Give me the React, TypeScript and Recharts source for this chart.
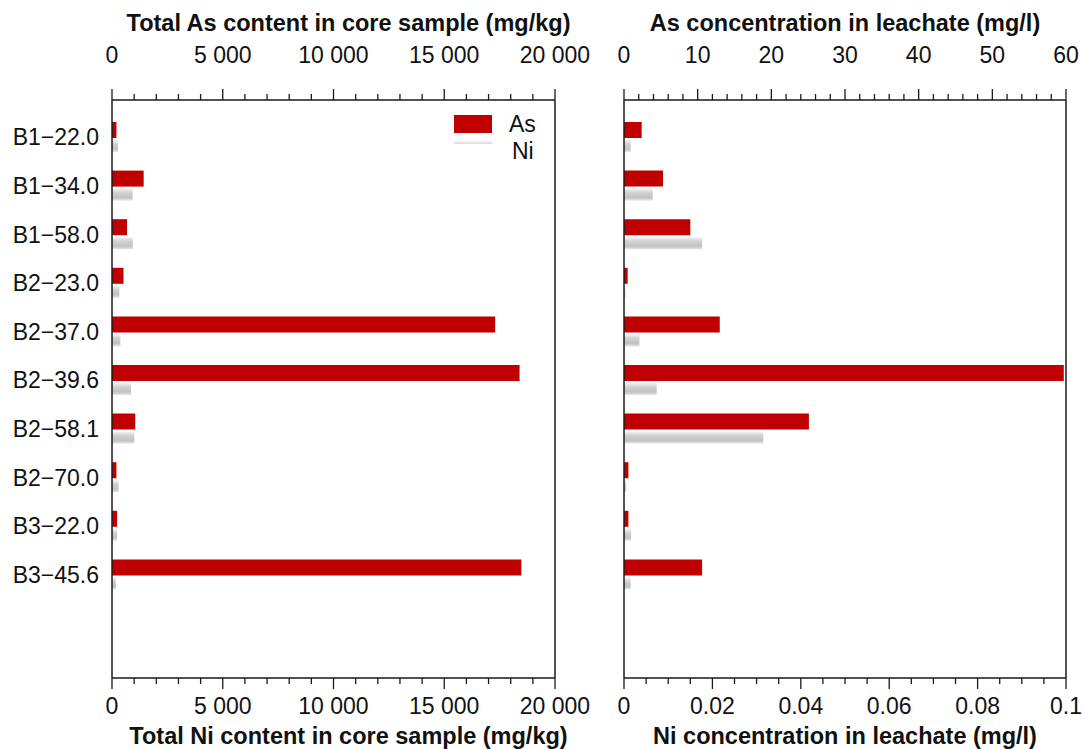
import React from 'react';
import { BarChart, Bar, XAxis, YAxis, Legend, ReferenceLine } from 'recharts';

// Core samples (borehole - depth)
const samples = ['B1−22.0', 'B1−34.0', 'B1−58.0', 'B2−23.0', 'B2−37.0', 'B2−39.6', 'B2−58.1', 'B2−70.0', 'B3−22.0', 'B3−45.6'];

// Total content in core sample (mg/kg)
const asCore = [200, 1430, 680, 520, 17300, 18400, 1050, 200, 230, 18480];
const niCore = [270, 930, 940, 330, 375, 860, 1005, 300, 230, 180];

// Concentration in leachate (mg/l)
const asLeach = [2.4, 5.3, 9.0, 0.5, 13.0, 59.7, 25.1, 0.6, 0.6, 10.6];
const niLeach = [0.0015, 0.0065, 0.0177, 0.0003, 0.0035, 0.0074, 0.0315, 0.0005, 0.0016, 0.0015];

// Major ticks + labels, minors are subdivisions between majors
const coreMajors = [0, 5000, 10000, 15000, 20000];
const coreLabels = ['0', '5 000', '10 000', '15 000', '20 000'];
const asLeachMajors = [0, 10, 20, 30, 40, 50, 60];
const asLeachLabels = ['0', '10', '20', '30', '40', '50', '60'];
const niLeachMajors = [0, 0.02, 0.04, 0.06, 0.08, 0.1];
const niLeachLabels = ['0', '0.02', '0.04', '0.06', '0.08', '0.1'];

const FONT = '"Liberation Sans", Arial, sans-serif';
const RED = '#c00000';
const AXIS = '#1a1a1a';

const coreData = samples.map((name, i) => ({ name, as: asCore[i], ni: niCore[i] }));
const leachData = samples.map((name, i) => ({ name, as: asLeach[i], ni: niLeach[i] }));

function withMinors(majors: number[], per: number) {
  const out: number[] = [];
  for (let i = 0; i < majors.length - 1; i++) {
    for (let k = 0; k < per; k++) out.push(majors[i] + ((majors[i + 1] - majors[i]) * k) / per);
  }
  out.push(majors[majors.length - 1]);
  return out;
}

function makeTick(side: 'top' | 'bottom', majors: number[], labels: string[]) {
  return (props: any) => {
    const { x, y, payload } = props;
    const idx = majors.findIndex((m) => Math.abs(m - payload.value) < 1e-9);
    const len = idx >= 0 ? 11 : 6;
    const dir = side === 'top' ? -1 : 1;
    return (
      <g>
        <line x1={x} x2={x} y1={y} y2={y + dir * len} stroke={AXIS} strokeWidth={1.3} />
        {idx >= 0 && (
          <text x={x} y={side === 'top' ? y - 37 : y + 36} textAnchor="middle" fontSize={23} fontFamily={FONT} fill="#111">
            {labels[idx]}
          </text>
        )}
      </g>
    );
  };
}

const titleStyle = { fontSize: 23.5, fontWeight: 700, fontFamily: FONT, fill: '#111' };

const LegendBox = () => (
  <svg width={100} height={54}>
    <defs>
      <linearGradient id="niLegend" x1="0" y1="0" x2="0" y2="1">
        <stop offset="0%" stopColor="#f4f4f4" />
        <stop offset="100%" stopColor="#dcdcdc" />
      </linearGradient>
    </defs>
    <rect x={0} y={3} width={38} height={18} fill={RED} />
    <rect x={0} y={29} width={38} height={3} fill="url(#niLegend)" />
    <text x={55} y={20} fontSize={23} fontFamily={FONT} fill="#111">As</text>
    <text x={58} y={47} fontSize={23} fontFamily={FONT} fill="#111">Ni</text>
  </svg>
);

const NiGradient = ({ id }: { id: string }) => (
  <defs>
    <linearGradient id={id} x1="0" y1="0" x2="0" y2="1">
      <stop offset="0%" stopColor="#f2f2f2" />
      <stop offset="35%" stopColor="#d0d0d0" />
      <stop offset="75%" stopColor="#c2c2c2" />
      <stop offset="100%" stopColor="#e6e6e6" />
    </linearGradient>
  </defs>
);

function CoreChart() {
  return (
    <BarChart width={600} height={749} data={coreData} layout="vertical" barGap={2}
      margin={{ top: 0, right: 45, bottom: 0, left: 0 }}>
      <NiGradient id="niCore" />
      <XAxis xAxisId="as" type="number" orientation="top" domain={[0, 20000]} ticks={withMinors(coreMajors, 5)}
        interval={0} height={100} tickSize={0} tickMargin={0} tick={makeTick('top', coreMajors, coreLabels)}
        axisLine={{ stroke: AXIS, strokeWidth: 1.5 }}
        label={{ value: 'Total As content in core sample (mg/kg)', position: 'insideTop', offset: 14, dx: 15, style: titleStyle }} />
      <XAxis xAxisId="ni" type="number" orientation="bottom" domain={[0, 20000]} ticks={withMinors(coreMajors, 5)}
        interval={0} height={71} tickSize={0} tickMargin={0} tick={makeTick('bottom', coreMajors, coreLabels)}
        axisLine={{ stroke: AXIS, strokeWidth: 1.5 }}
        label={{ value: 'Total Ni content in core sample (mg/kg)', position: 'insideBottom', offset: 5, dx: 15, style: titleStyle }} />
      <YAxis type="category" dataKey="name" width={112} padding={{ top: 13, bottom: 79 }}
        tickLine={false} tickSize={0} tickMargin={13} axisLine={{ stroke: AXIS, strokeWidth: 1.5 }}
        tick={{ fontSize: 23, fontFamily: FONT, fill: '#111' }} />
      <ReferenceLine xAxisId="as" x={20000} stroke={AXIS} strokeWidth={1.5} />
      <Legend layout="vertical" align="center" verticalAlign="middle" content={() => <LegendBox />}
        wrapperStyle={{ top: 112, left: 454, width: 100 }} />
      <Bar xAxisId="as" dataKey="as" name="As" fill={RED} barSize={16} isAnimationActive={false} />
      <Bar xAxisId="ni" dataKey="ni" name="Ni" fill="url(#niCore)" barSize={12} isAnimationActive={false} />
    </BarChart>
  );
}

function LeachChart() {
  return (
    <BarChart width={492} height={749} data={leachData} layout="vertical" barGap={2}
      margin={{ top: 0, right: 16, bottom: 0, left: 0 }}>
      <NiGradient id="niLeach" />
      <XAxis xAxisId="as" type="number" orientation="top" domain={[0, 60]} ticks={withMinors(asLeachMajors, 5)}
        interval={0} height={100} tickSize={0} tickMargin={0} tick={makeTick('top', asLeachMajors, asLeachLabels)}
        axisLine={{ stroke: AXIS, strokeWidth: 1.5 }}
        label={{ value: 'As concentration in leachate (mg/l)', position: 'insideTop', offset: 14, style: titleStyle }} />
      <XAxis xAxisId="ni" type="number" orientation="bottom" domain={[0, 0.1]} ticks={withMinors(niLeachMajors, 4)}
        interval={0} height={71} tickSize={0} tickMargin={0} tick={makeTick('bottom', niLeachMajors, niLeachLabels)}
        axisLine={{ stroke: AXIS, strokeWidth: 1.5 }}
        label={{ value: 'Ni concentration in leachate (mg/l)', position: 'insideBottom', offset: 5, style: titleStyle }} />
      <YAxis type="category" dataKey="name" width={34} padding={{ top: 13, bottom: 79 }}
        tick={false} tickLine={false} axisLine={{ stroke: AXIS, strokeWidth: 1.5 }} />
      <ReferenceLine xAxisId="as" x={60} stroke={AXIS} strokeWidth={1.5} />
      <Bar xAxisId="as" dataKey="as" name="As" fill={RED} barSize={16} isAnimationActive={false} />
      <Bar xAxisId="ni" dataKey="ni" name="Ni" fill="url(#niLeach)" barSize={12} isAnimationActive={false} />
    </BarChart>
  );
}

export default function App() {
  return (
    <div style={{ position: 'absolute', left: 0, top: 0, width: 1082, height: 749, background: '#fff', overflow: 'hidden' }}>
      <div style={{ position: 'absolute', left: 0, top: 0 }}>
        <CoreChart />
      </div>
      <div style={{ position: 'absolute', left: 590, top: 0 }}>
        <LeachChart />
      </div>
    </div>
  );
}
